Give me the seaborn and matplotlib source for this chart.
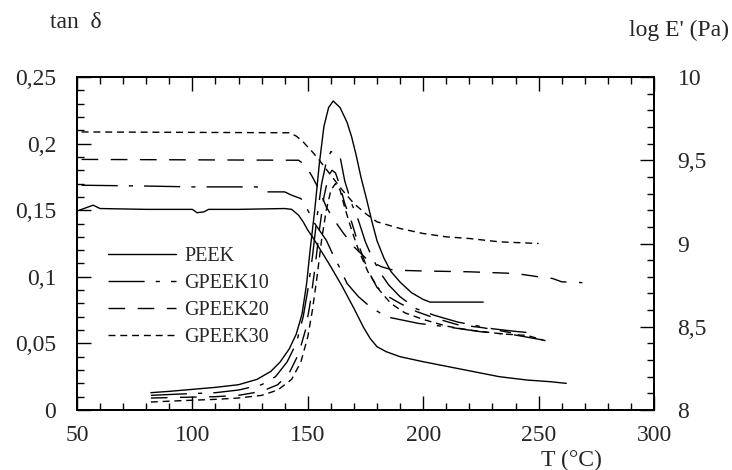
import pandas as pd
import seaborn as sns
import matplotlib.pyplot as plt
from matplotlib.lines import Line2D
from matplotlib.ticker import MultipleLocator, FuncFormatter

# tan delta curves (left axis)
peek_tan_T = [82, 90, 100, 110, 120, 128, 134, 138, 142, 145, 147.5, 149.5, 151, 153, 155, 157, 159, 161,
              164, 167, 169, 171, 173, 175.5, 178, 180, 183, 186, 190, 195, 200, 203, 226]
peek_tan = [0.013, 0.014, 0.0155, 0.017, 0.019, 0.023, 0.029, 0.036, 0.046, 0.057, 0.072, 0.095, 0.12, 0.15,
            0.185, 0.213, 0.227, 0.232, 0.227, 0.216, 0.205, 0.191, 0.175, 0.158, 0.14, 0.127, 0.114, 0.104,
            0.096, 0.088, 0.083, 0.081, 0.081]

g10_tan_T = [82, 95, 110, 120, 130, 136, 141, 145, 148, 150, 152, 154, 156, 158, 160, 162, 164, 166, 169,
             172, 175, 177, 181, 185, 190, 197, 205, 215, 230, 240, 246]
g10_tan = [0.011, 0.012, 0.013, 0.015, 0.019, 0.025, 0.036, 0.05, 0.07, 0.09, 0.115, 0.145, 0.17, 0.186,
           0.194, 0.193, 0.19, 0.172, 0.155, 0.142, 0.126, 0.118, 0.104, 0.094, 0.085, 0.076, 0.071, 0.066,
           0.061, 0.059, 0.058]

g20_tan_T = [82, 95, 110, 120, 130, 137, 142, 146, 149, 151, 153, 155, 157, 159, 160.5, 162, 164, 166, 169,
             172, 176, 180, 185, 190, 197, 205, 215, 225, 232, 238]
g20_tan = [0.009, 0.0095, 0.010, 0.011, 0.014, 0.019, 0.028, 0.042, 0.06, 0.08, 0.105, 0.135, 0.16, 0.176,
           0.18, 0.178, 0.168, 0.155, 0.141, 0.124, 0.105, 0.092, 0.085, 0.08, 0.074, 0.069, 0.064, 0.062,
           0.06, 0.058]

g30_tan_T = [82, 95, 110, 120, 130, 137, 143, 147, 150, 152, 154, 156, 158, 160, 162, 164, 166, 169, 172,
             176, 181, 186, 192, 200, 210, 220, 235, 245, 253]
g30_tan = [0.006, 0.007, 0.008, 0.009, 0.011, 0.015, 0.023, 0.036, 0.055, 0.075, 0.1, 0.128, 0.15, 0.165,
           0.17, 0.165, 0.152, 0.135, 0.12, 0.104, 0.09, 0.08, 0.073, 0.068, 0.063, 0.06, 0.057, 0.056, 0.052]

# log E' curves (right axis)
peek_E_T = [51, 55, 57, 60, 80, 100, 102, 105, 107, 120, 140, 143, 146, 148, 150, 152, 156, 160, 165, 170,
            174, 177, 180, 184, 190, 200, 211, 222, 233, 245, 255, 262]
peek_E = [9.20, 9.22, 9.23, 9.21, 9.205, 9.205, 9.185, 9.19, 9.205, 9.205, 9.21, 9.205, 9.17, 9.13, 9.08,
          9.04, 8.95, 8.86, 8.74, 8.61, 8.50, 8.43, 8.38, 8.35, 8.32, 8.29, 8.26, 8.23, 8.2, 8.18, 8.17, 8.16]

g10_E_T = [52, 80, 100, 128, 131, 140, 143, 147, 150, 153, 156, 158, 161, 164, 167, 172, 177, 184, 198,
           210, 225, 240, 252]
g10_E = [9.35, 9.345, 9.34, 9.34, 9.31, 9.31, 9.29, 9.27, 9.2, 9.12, 9.06, 9.02, 8.93, 8.85, 8.76, 8.68,
         8.62, 8.56, 8.52, 8.5, 8.47, 8.45, 8.42]

g20_E_T = [52, 146, 149, 152, 155, 158, 161, 165, 170, 176, 182, 187, 200, 220, 240, 250, 256, 260, 269]
g20_E = [9.505, 9.50, 9.47, 9.4, 9.32, 9.22, 9.15, 9.07, 8.98, 8.9, 8.86, 8.84, 8.835, 8.83, 8.82, 8.80,
         8.79, 8.77, 8.765]

g30_E_T = [52, 142, 145, 148, 150, 152, 155, 160, 165, 170, 175, 180, 190, 200, 210, 220, 233, 250]
g30_E = [9.67, 9.665, 9.645, 9.61, 9.58, 9.55, 9.5, 9.41, 9.32, 9.24, 9.18, 9.13, 9.09, 9.06, 9.04, 9.03,
         9.01, 9.0]

samples = ['PEEK', 'GPEEK10', 'GPEEK20', 'GPEEK30']
dash_map = {'PEEK': '', 'GPEEK10': (26, 8, 3, 8), 'GPEEK20': (12, 9), 'GPEEK30': (5, 3.5)}

tan_df = pd.concat([
    pd.DataFrame({'T': peek_tan_T, 'val': peek_tan, 'sample': 'PEEK'}),
    pd.DataFrame({'T': g10_tan_T, 'val': g10_tan, 'sample': 'GPEEK10'}),
    pd.DataFrame({'T': g20_tan_T, 'val': g20_tan, 'sample': 'GPEEK20'}),
    pd.DataFrame({'T': g30_tan_T, 'val': g30_tan, 'sample': 'GPEEK30'}),
])
E_df = pd.concat([
    pd.DataFrame({'T': peek_E_T, 'val': peek_E, 'sample': 'PEEK'}),
    pd.DataFrame({'T': g10_E_T, 'val': g10_E, 'sample': 'GPEEK10'}),
    pd.DataFrame({'T': g20_E_T, 'val': g20_E, 'sample': 'GPEEK20'}),
    pd.DataFrame({'T': g30_E_T, 'val': g30_E, 'sample': 'GPEEK30'}),
])

sns.set_theme(style='white')
plt.rcParams['font.family'] = ['Liberation Serif', 'DejaVu Serif']
plt.rcParams['axes.edgecolor'] = 'black'
plt.rcParams['axes.linewidth'] = 1.3

fig = plt.figure(figsize=(7.32, 4.70), dpi=100)
ax = fig.add_axes([77 / 732, 60 / 470, 577 / 732, 333 / 470])
ax2 = ax.twinx()

lw = 1.0
sns.lineplot(data=tan_df, x='T', y='val', style='sample', style_order=samples, dashes=dash_map,
             color='black', linewidth=lw, estimator=None, sort=False, legend=False, ax=ax)
sns.lineplot(data=E_df, x='T', y='val', style='sample', style_order=samples, dashes=dash_map,
             color='black', linewidth=lw, estimator=None, sort=False, legend=False, ax=ax2)

ax.set_xlim(50, 300)
ax.set_ylim(0, 0.25)
ax2.set_ylim(8, 10)
ax.set_xlabel('')
ax.set_ylabel('')
ax2.set_ylabel('')

comma = FuncFormatter(lambda v, p: ('%g' % round(v, 4)).replace('.', ','))
ax.xaxis.set_major_locator(MultipleLocator(50))
ax.xaxis.set_minor_locator(MultipleLocator(10))
ax.yaxis.set_major_locator(MultipleLocator(0.05))
ax.yaxis.set_minor_locator(MultipleLocator(0.01))
ax.yaxis.set_major_formatter(comma)
ax2.yaxis.set_major_locator(MultipleLocator(0.5))
ax2.yaxis.set_minor_locator(MultipleLocator(0.1))
ax2.yaxis.set_major_formatter(comma)

fs = 17
ax.tick_params(axis='x', which='both', direction='in', top=True, bottom=True, labelsize=fs, pad=11,
               color='black', width=1)
ax.tick_params(axis='y', which='both', direction='in', left=True, right=False, labelsize=fs, pad=15,
               color='black', width=1)
ax2.tick_params(axis='y', which='both', direction='in', right=True, labelsize=fs, pad=17,
                color='black', width=1)
for a in (ax, ax2):
    a.tick_params(which='major', length=10)
    a.tick_params(which='minor', length=5)

for sp in ax2.spines.values():
    sp.set_color('black')
    sp.set_linewidth(1.3)

handles = [Line2D([], [], color='black', linewidth=lw, linestyle='-')]
for s in samples[1:]:
    h = Line2D([], [], color='black', linewidth=lw)
    h.set_dashes(dash_map[s])
    handles.append(h)
ax2.legend(handles, samples, loc='upper left', bbox_to_anchor=(31 / 577, 0.49), frameon=False,
           fontsize=14.5, handlelength=3.4, handletextpad=0.4, labelspacing=0.4,
           borderpad=0, borderaxespad=0)

fig.text(50 / 732, 1 - 22 / 470, 'tan  δ', fontsize=fs, ha='left', va='center')
fig.text(729 / 732, 1 - 30 / 470, "log E' (Pa)", fontsize=fs, ha='right', va='center')
fig.text(571 / 732, 1 - 460 / 470, 'T (°C)', fontsize=fs, ha='center', va='center')

fig.savefig('out.png', dpi=100)
